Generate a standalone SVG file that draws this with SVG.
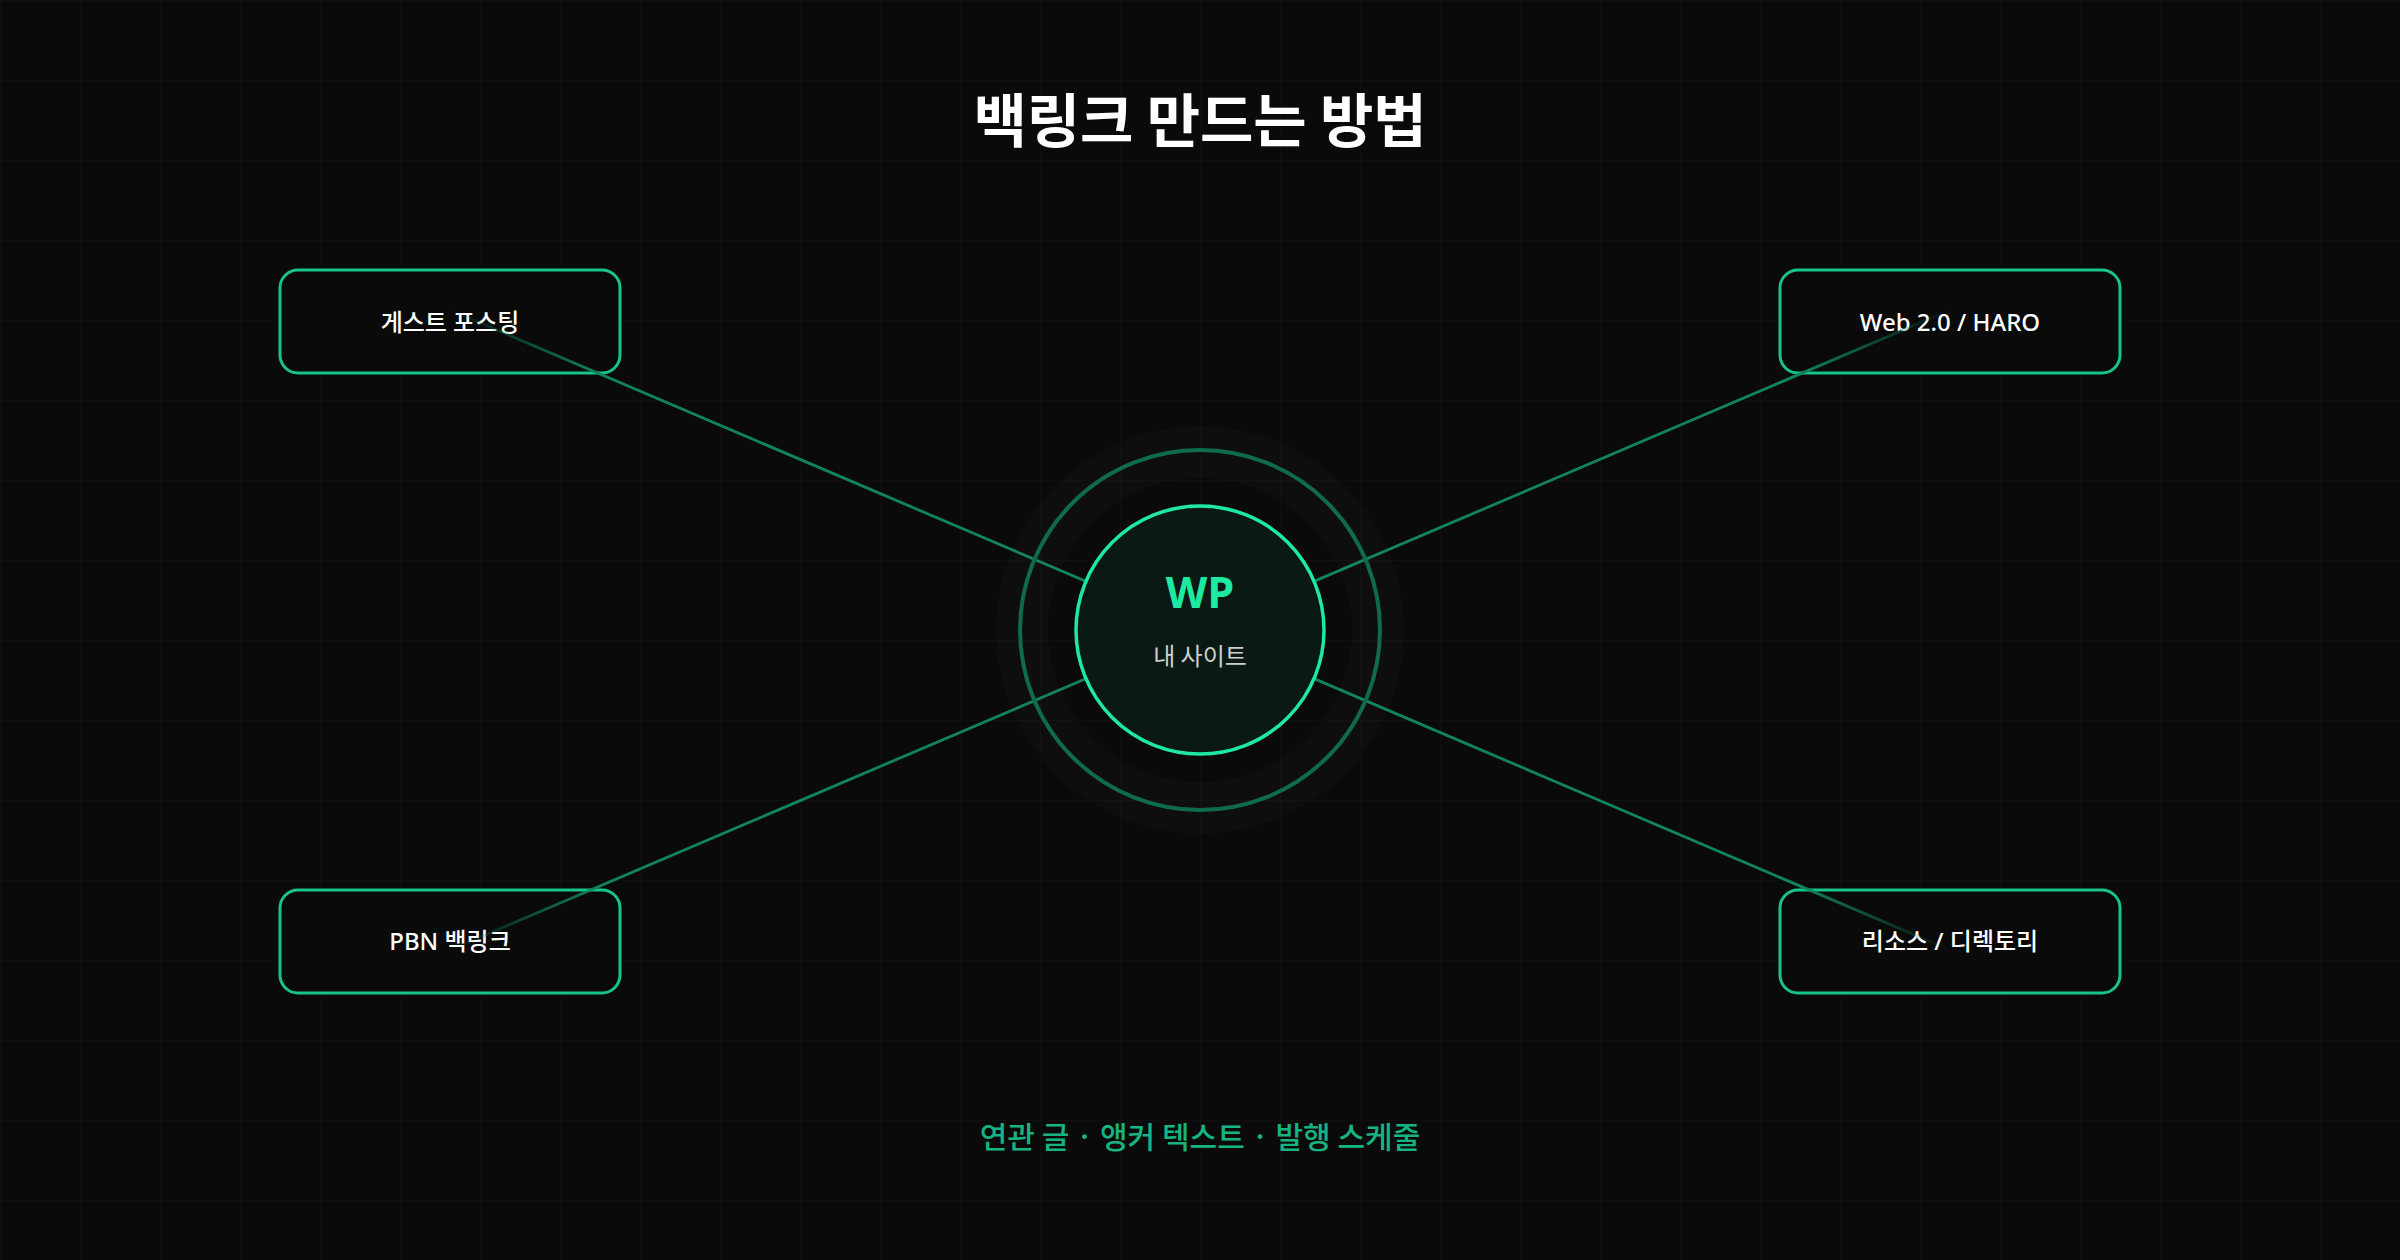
<svg xmlns="http://www.w3.org/2000/svg" width="2400" height="1260" viewBox="0 0 2400 1260">
  <defs>
    <pattern id="grid" x="0" y="0" width="80" height="80" patternUnits="userSpaceOnUse">
      <path d="M80 0 L0 0 0 80" fill="none" stroke="#111111" stroke-width="1.5"/>
    </pattern>
    <linearGradient id="gTL" gradientUnits="userSpaceOnUse" x1="450" y1="310" x2="1200" y2="630">
      <stop offset="0" stop-color="#10845c" stop-opacity="0"/>
      <stop offset="0.2" stop-color="#10845c" stop-opacity="1"/>
      <stop offset="1" stop-color="#10845c" stop-opacity="1"/>
    </linearGradient>
    <linearGradient id="gTR" gradientUnits="userSpaceOnUse" x1="1950" y1="310" x2="1200" y2="630">
      <stop offset="0" stop-color="#10845c" stop-opacity="0"/>
      <stop offset="0.2" stop-color="#10845c" stop-opacity="1"/>
      <stop offset="1" stop-color="#10845c" stop-opacity="1"/>
    </linearGradient>
    <linearGradient id="gBL" gradientUnits="userSpaceOnUse" x1="450" y1="950" x2="1200" y2="630">
      <stop offset="0" stop-color="#10845c" stop-opacity="0"/>
      <stop offset="0.2" stop-color="#10845c" stop-opacity="1"/>
      <stop offset="1" stop-color="#10845c" stop-opacity="1"/>
    </linearGradient>
    <linearGradient id="gBR" gradientUnits="userSpaceOnUse" x1="1950" y1="950" x2="1200" y2="630">
      <stop offset="0" stop-color="#10845c" stop-opacity="0"/>
      <stop offset="0.2" stop-color="#10845c" stop-opacity="1"/>
      <stop offset="1" stop-color="#10845c" stop-opacity="1"/>
    </linearGradient>
  </defs>
  <style>
    .node rect { fill: #0a0a0a; stroke: #17c48a; stroke-width: 3; }
    .label { font-family: "Noto Sans", "Noto Sans CJK KR", sans-serif; font-size: 24px; font-weight: 500; fill: #ffffff; text-anchor: middle; }
    .conn { stroke-width: 2.8; fill: none; }
    .title { font-family: "Noto Sans CJK KR", sans-serif; font-size: 58px; font-weight: 700; fill: #ffffff; text-anchor: middle; }
    .sub { font-family: "Noto Sans CJK KR", sans-serif; font-size: 30px; font-weight: 500; fill: #16b482; text-anchor: middle; }
  </style>
  <rect width="2400" height="1260" fill="#0a0a0a"/>
  <rect width="2400" height="1260" fill="url(#grid)"/>

  <text class="title" x="1200" y="142">백링크 만드는 방법</text>

  <g id="nodes-boxes">
    <g id="node-guest" class="node">
      <rect x="280" y="270" width="340" height="103" rx="18"/>
      <text class="label" x="450" y="331">게스트 포스팅</text>
    </g>
    <g id="node-web20" class="node">
      <rect x="1780" y="270" width="340" height="103" rx="18"/>
      <text class="label" x="1950" y="331">Web 2.0 / HARO</text>
    </g>
    <g id="node-pbn" class="node">
      <rect x="280" y="890" width="340" height="103" rx="18"/>
      <text class="label" x="450" y="950">PBN 백링크</text>
    </g>
    <g id="node-resource" class="node">
      <rect x="1780" y="890" width="340" height="103" rx="18"/>
      <text class="label" x="1950" y="950">리소스 / 디렉토리</text>
    </g>
  </g>

  <g id="connectors">
    <line class="conn" x1="450" y1="310" x2="1200" y2="630" stroke="url(#gTL)"/>
    <line class="conn" x1="1950" y1="310" x2="1200" y2="630" stroke="url(#gTR)"/>
    <line class="conn" x1="450" y1="950" x2="1200" y2="630" stroke="url(#gBL)"/>
    <line class="conn" x1="1950" y1="950" x2="1200" y2="630" stroke="url(#gBR)"/>
  </g>

  <g id="node-center">
    <circle cx="1200" cy="630" r="178" fill="none" stroke="#ffffff" stroke-opacity="0.018" stroke-width="52"/>
    <circle cx="1200" cy="630" r="180" fill="none" stroke="#0f6b4b" stroke-width="4"/>
    <circle cx="1200" cy="630" r="124" fill="#0b1914" stroke="#1de9a1" stroke-width="3.5"/>
    <text x="1200" y="608" text-anchor="middle" font-family="'Noto Sans', sans-serif" font-size="43" font-weight="700" fill="#1de9a1">WP</text>
    <text x="1200" y="665" text-anchor="middle" font-family="'Noto Sans CJK KR', sans-serif" font-size="24" fill="#cfcfcf">내 사이트</text>
  </g>

  <text class="sub" x="1200" y="1148">연관 글 · 앵커 텍스트 · 발행 스케줄</text>
</svg>
